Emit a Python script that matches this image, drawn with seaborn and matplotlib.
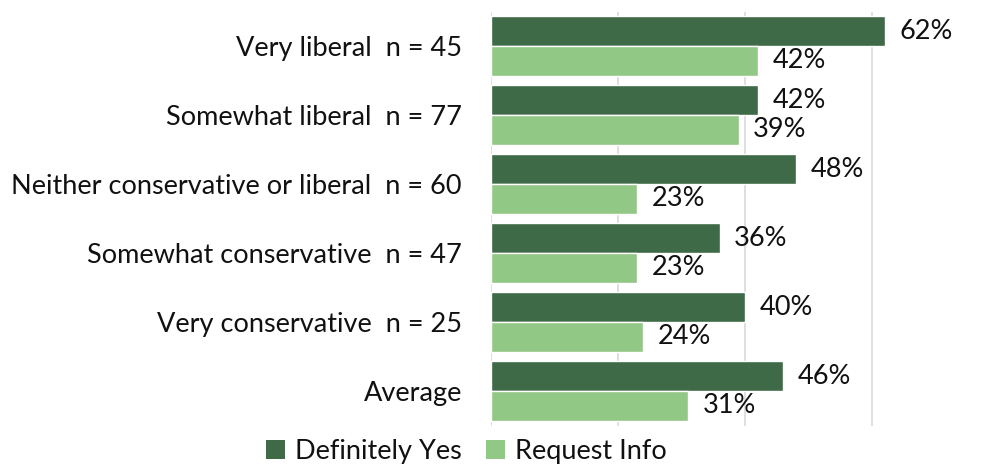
import matplotlib
matplotlib.use("Agg")
import matplotlib.pyplot as plt
import seaborn as sns
import pandas as pd
from matplotlib.patches import Patch

categories = [
    "Very liberal  n = 45",
    "Somewhat liberal  n = 77",
    "Neither conservative or liberal  n = 60",
    "Somewhat conservative  n = 47",
    "Very conservative  n = 25",
    "Average",
]
definitely_yes = [62, 42, 48, 36, 40, 46]
request_info = [42, 39, 23, 23, 24, 31]
series_names = ["Definitely Yes", "Request Info"]
colors = ["#3F6A47", "#92C885"]

df = pd.DataFrame({
    "category": categories * 2,
    "series": [series_names[0]] * len(categories) + [series_names[1]] * len(categories),
    "value": definitely_yes + request_info,
})

sns.set_theme(style="white")
plt.rcParams["font.family"] = ["Lato", "DejaVu Sans"]

W, H = 984, 466
fig = plt.figure(figsize=(W / 100, H / 100), dpi=100)
x0, x_end = 491, 984
y_top, y_bot = 11.5, 425.5
ax = fig.add_axes([x0 / W, 1 - y_bot / H, (x_end - x0) / W, (y_bot - y_top) / H])

sns.barplot(data=df, y="category", x="value", hue="series", order=categories,
            hue_order=series_names, palette=colors, orient="h", width=0.86,
            ax=ax, legend=False, saturation=1)

ax.set_xlim(0, (x_end - x0) / 6.35)
ax.set_ylim(len(categories) - 0.5, -0.5)
ax.set_xticks([0, 20, 40, 60])
ax.xaxis.grid(True, color="#D9D9D9", linewidth=1.2)
ax.set_axisbelow(True)
ax.tick_params(axis="x", labelbottom=False, length=0)
ax.tick_params(axis="y", length=0, pad=21, labelsize=19.5, labelcolor="#111111")
ax.set_xlabel("")
ax.set_ylabel("")
for s in ax.spines.values():
    s.set_visible(False)

for container in ax.containers:
    ax.bar_label(container, labels=[f"{v:.0f}%" for v in container.datavalues],
                 padding=10.5, fontsize=19.5, color="#111111")

handles = [Patch(facecolor=c, edgecolor="none") for c in colors]
fig.legend(handles, series_names, loc="center", bbox_to_anchor=(466.5 / W, 1 - 451 / H),
           ncol=2, frameon=False, fontsize=19.5, handlelength=0.7, handleheight=0.7,
           handletextpad=0.35, columnspacing=0.91, labelcolor="#111111",
           borderpad=0.1)

fig.savefig("out.png", dpi=100)
